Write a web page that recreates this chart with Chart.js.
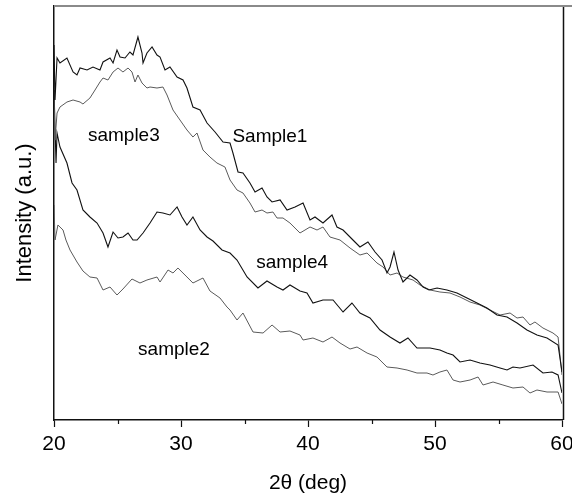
<!DOCTYPE html>
<html>
<head>
<meta charset="utf-8">
<script src="https://cdn.jsdelivr.net/npm/chart.js@4.4.1/dist/chart.umd.min.js"></script>
<style>
  html, body { margin: 0; padding: 0; background: #fff; }
  #wrap { width: 572px; height: 496px; }
</style>
</head>
<body>
<div id="wrap"><canvas id="chart" width="572" height="496"></canvas></div>
<script>
// 2-theta (deg) and intensity (a.u.)
var s1X = [20.00,20.08,20.24,20.47,21.02,21.50,21.81,22.05,22.60,23.07,23.62,23.86,24.41,24.65,24.96,25.20,25.59,25.98,26.22,26.61,26.93,27.01,27.32,27.72,28.11,28.35,28.74,29.13,29.69,30.16,30.47,30.94,31.50,32.05,32.68,33.31,33.86,34.09,34.49,34.88,35.43,35.83,36.38,36.77,37.17,37.80,38.35,38.98,39.61,40.16,40.55,41.18,41.89,42.28,42.76,43.54,44.09,44.72,45.28,45.83,46.22,46.46,46.77,47.09,47.48,48.03,48.58,49.06,49.53,50.16,50.94,51.73,52.52,53.31,54.09,54.88,55.67,56.46,57.24,58.03,58.82,59.69,60.00];
var s1Y = [375,320,362,357,362,348,345,352,350,353,350,358,362,357,370,363,362,368,365,383,367,357,367,373,365,363,350,353,343,340,332,313,310,297,288,278,277,267,248,247,237,228,232,223,218,220,210,213,217,200,203,197,205,193,190,180,173,178,168,160,147,153,168,150,138,145,140,133,130,132,130,127,122,117,112,105,103,97,90,85,82,75,48];

var s3X = [20.00,20.08,20.24,20.47,21.02,21.50,22.05,22.28,22.83,23.23,23.62,23.86,24.25,24.65,25.04,25.43,25.83,26.14,26.38,26.61,26.93,27.32,27.56,28.11,28.58,28.90,29.37,29.92,30.47,30.94,31.26,31.73,32.28,32.83,33.46,33.86,34.41,34.88,35.43,35.83,36.38,36.77,37.24,37.56,38.03,38.58,39.37,40.16,40.71,41.18,41.73,42.52,43.31,44.09,44.65,45.43,45.91,46.46,47.01,47.48,48.27,48.82,49.61,50.39,51.18,51.97,52.76,53.54,54.33,55.12,55.91,56.46,56.93,57.48,57.87,58.50,59.29,59.69,60.00];
var s3Y = [320,280,307,313,318,320,318,316,322,330,338,342,340,348,352,348,352,348,338,345,337,332,333,332,333,325,310,300,290,283,287,270,263,257,253,240,230,227,217,208,210,207,208,202,202,197,187,193,190,193,183,180,172,165,167,157,153,145,147,143,140,135,130,128,127,123,118,115,110,105,107,102,103,95,98,92,87,83,45];

var s4X = [20.00,20.16,20.24,20.47,21.02,21.42,21.81,22.28,22.83,23.39,23.86,24.25,24.65,25.04,25.43,25.83,26.22,26.54,27.01,27.56,28.11,28.58,29.13,29.69,30.08,30.47,30.94,31.50,32.05,32.52,33.23,33.86,34.41,35.20,36.06,36.77,37.56,38.03,38.58,39.37,39.92,40.39,41.18,41.97,42.76,43.46,44.09,44.88,45.67,46.46,47.24,47.87,48.58,49.61,50.39,50.94,51.42,51.97,52.76,53.54,54.33,55.12,55.67,56.14,56.69,57.72,58.50,59.21,59.69,60.00];
var s4Y = [330,257,287,273,257,237,230,210,203,197,187,173,188,182,183,187,180,180,187,197,208,207,205,213,203,195,203,190,183,179,170,167,160,143,132,139,133,130,135,129,127,117,120,120,108,117,107,102,90,83,77,82,72,72,70,67,65,58,60,57,55,52,50,53,52,55,47,48,45,27];

var s2X = [20.00,20.08,20.31,20.71,20.94,21.26,21.81,22.28,22.83,23.39,23.86,24.41,24.96,25.43,26.14,26.77,27.32,28.11,28.35,28.98,29.37,29.76,30.47,30.94,31.73,32.28,33.07,33.62,33.86,34.41,34.88,35.67,36.46,37.17,37.80,38.58,39.37,39.61,40.39,41.18,41.89,42.52,43.31,43.86,44.65,45.43,46.22,47.01,47.80,48.58,49.37,49.84,50.39,50.94,51.42,51.97,52.76,53.39,53.78,54.57,55.35,56.14,56.93,57.48,58.03,58.82,59.69,60.00];
var s2Y = [215,180,195,190,180,170,158,149,143,142,130,133,125,131,141,137,140,143,138,150,147,152,143,137,142,129,122,113,110,100,107,88,87,95,88,89,85,80,82,78,83,77,71,73,67,63,53,52,50,47,47,45,48,50,40,38,40,43,35,38,35,32,33,27,30,28,28,16];

var xTicks = [20, 30, 40, 50, 60];
var xMinor = [25, 35, 45, 55];

// curve labels: [text, 2theta, intensity]
var curveLabels = [
  ['sample3', 25.5, 284],
  ['Sample1', 37.0, 283],
  ['sample4', 38.75, 157],
  ['sample2', 29.45, 70]
];

function pts(xs, ys) {
  var out = [];
  for (var i = 0; i < xs.length; i++) out.push({ x: xs[i], y: ys[i] });
  return out;
}

var FONT = '"Liberation Sans", Arial, Helvetica, sans-serif';
var BLACK = '#111111';
var GRAY = '#5a5a5a';

// top/right frame, minor ticks and curve names
var extras = {
  id: 'extras',
  afterDraw: function(chart) {
    var ctx = chart.ctx;
    var a = chart.chartArea;
    var xs = chart.scales.x, ys = chart.scales.y;
    ctx.save();
    ctx.strokeStyle = '#8a8a8a';
    ctx.lineWidth = 2;
    ctx.beginPath();
    ctx.moveTo(a.left, a.top);
    ctx.lineTo(chart.width, a.top);
    ctx.stroke();

    ctx.strokeStyle = BLACK;
    ctx.lineWidth = 1.5;
    ctx.beginPath();
    ctx.moveTo(a.right + 1.5, a.top + 1);
    ctx.lineTo(a.right + 1.5, a.bottom);
    ctx.stroke();

    ctx.lineWidth = 1.2;
    for (var i = 0; i < xMinor.length; i++) {
      var px = Math.round(xs.getPixelForValue(xMinor[i])) + 0.5;
      ctx.beginPath();
      ctx.moveTo(px, a.bottom);
      ctx.lineTo(px, a.bottom + 4);
      ctx.stroke();
    }

    ctx.fillStyle = '#000';
    ctx.font = '19px ' + FONT;
    ctx.textAlign = 'center';
    ctx.textBaseline = 'middle';
    curveLabels.forEach(function(l) {
      ctx.fillText(l[0], xs.getPixelForValue(l[1]), ys.getPixelForValue(l[2]));
    });
    ctx.restore();
  }
};

var ctx = document.getElementById('chart').getContext('2d');
var chart = new Chart(ctx, {
  type: 'scatter',
  data: {
    datasets: [
      { label: 'Sample1', data: pts(s1X, s1Y), borderColor: BLACK, borderWidth: 1.1 },
      { label: 'sample3', data: pts(s3X, s3Y), borderColor: GRAY, borderWidth: 1 },
      { label: 'sample4', data: pts(s4X, s4Y), borderColor: BLACK, borderWidth: 1.1 },
      { label: 'sample2', data: pts(s2X, s2Y), borderColor: GRAY, borderWidth: 1 }
    ]
  },
  options: {
    responsive: false,
    animation: false,
    showLine: true,
    elements: { point: { radius: 0, hoverRadius: 0 }, line: { tension: 0 } },
    layout: { padding: { top: 6, right: 10, left: 0, bottom: 0 } },
    plugins: { legend: { display: false }, tooltip: { enabled: false } },
    scales: {
      x: {
        type: 'linear',
        min: 20,
        max: 60,
        afterFit: function(s) { s.height = 76; s.paddingLeft = 0; s.paddingRight = 0; },
        afterBuildTicks: function(s) { s.ticks = xTicks.map(function(v) { return { value: v }; }); },
        ticks: { color: '#000', font: { size: 21, family: FONT }, padding: 5, maxRotation: 0 },
        grid: { drawOnChartArea: false, drawTicks: true, tickLength: 7, color: BLACK, tickWidth: 1.2 },
        border: { display: true, color: BLACK, width: 1.5 },
        title: { display: true, text: '2θ (deg)', color: '#000', font: { size: 21, family: FONT }, padding: { top: 0, bottom: 0 } }
      },
      y: {
        type: 'linear',
        min: 0,
        max: 414,
        afterFit: function(s) { s.width = 54; s.paddingTop = 0; s.paddingBottom = 0; },
        ticks: { display: false },
        grid: { display: false },
        border: { display: true, color: BLACK, width: 1.5 },
        title: { display: true, text: 'Intensity (a.u.)', color: '#000', font: { size: 22, family: FONT }, padding: { top: 12, bottom: 0 } }
      }
    }
  },
  plugins: [extras]
});
</script>
</body>
</html>
